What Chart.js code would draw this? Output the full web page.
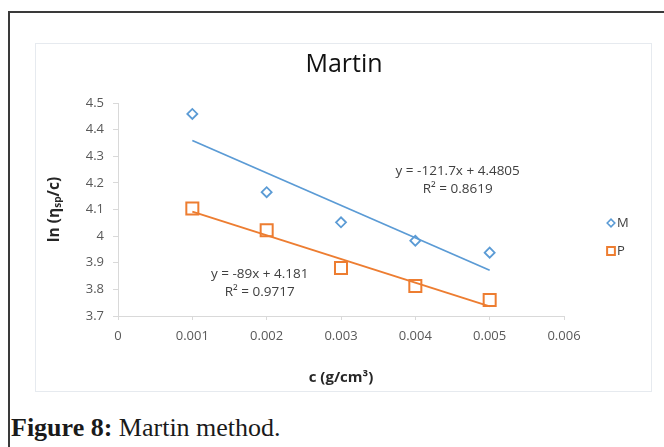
<!DOCTYPE html>
<html>
<head>
<meta charset="utf-8">
<script src="https://cdn.jsdelivr.net/npm/chart.js@4"></script>
<style>
  body { margin: 0; background: #fff; width: 664px; height: 447px; overflow: hidden; position: relative; }
  #frame { position: absolute; left: 8px; top: 11px; width: 700px; height: 500px; border: 2px solid #3a3a3a; }
  #box { position: absolute; left: 35px; top: 43px; width: 615px; height: 347px; border: 1px solid #e6eaef; }
  #chart { position: absolute; left: 35px; top: 43px; }
  #caption { position: absolute; left: 11px; top: 413px; font-family: "Liberation Serif", serif; font-size: 26px; color: #1a1a1a; white-space: nowrap; }
</style>
</head>
<body>
<div id="frame"></div>
<div id="box"></div>
<canvas id="chart" width="616" height="348"></canvas>
<div id="caption"><b>Figure 8:</b> Martin method.</div>
<script>
// concentrations (g/cm3)
const conc = [0.001, 0.002, 0.003, 0.004, 0.005];
// ln(nsp/c) values
const valuesM = [4.459, 4.165, 4.052, 3.983, 3.938];
const valuesP = [4.104, 4.022, 3.880, 3.813, 3.760];
// linear trendlines, ends at first and last concentration
const trendX = [0.001, 0.005];
const trendM = [4.359, 3.872];
const trendP = [4.092, 3.736];
const eqM = ["y = -121.7x + 4.4805", "R² = 0.8619"];
const eqP = ["y = -89x + 4.181", "R² = 0.9717"];
const seriesNames = ["M", "P"];

const blue = "#5b9bd5";
const orange = "#ed7d31";
const font = "'Open Sans', sans-serif";

function toPoints(xs, ys) {
  return xs.map((x, i) => ({ x: x, y: ys[i] }));
}

// trendline equations, anchored in data space
const equationLabels = {
  id: "equationLabels",
  afterDatasetsDraw(chart) {
    const ctx = chart.ctx;
    const xs = chart.scales.x, ys = chart.scales.y;
    ctx.save();
    ctx.font = "13.5px " + font;
    ctx.fillStyle = "#404040";
    ctx.textAlign = "center";
    ctx.textBaseline = "middle";
    let px = xs.getPixelForValue(0.00457), py = ys.getPixelForValue(4.2446);
    ctx.fillText(eqM[0], px, py);
    ctx.fillText(eqM[1], px, py + 18);
    px = xs.getPixelForValue(0.001906);
    py = ys.getPixelForValue(3.8577);
    ctx.fillText(eqP[0], px, py);
    ctx.fillText(eqP[1], px, py + 18);
    ctx.restore();
  }
};

// small legend on the right, like excel's
const sideLegend = {
  id: "sideLegend",
  afterDraw(chart) {
    const ctx = chart.ctx;
    const left = chart.chartArea.right + 47;
    const styles = [
      { pointStyle: "rectRot", radius: 3.8, borderWidth: 1.6, color: blue },
      { pointStyle: "rect", radius: 5.5, borderWidth: 2, color: orange }
    ];
    ctx.save();
    ctx.font = "13px " + font;
    ctx.textBaseline = "middle";
    seriesNames.forEach((name, i) => {
      const y = 180 + i * 28;
      const st = styles[i];
      ctx.strokeStyle = st.color;
      ctx.fillStyle = "rgba(0,0,0,0)";
      ctx.lineWidth = st.borderWidth;
      Chart.helpers.drawPoint(ctx, { pointStyle: st.pointStyle, radius: st.radius, borderWidth: st.borderWidth }, left, y);
      ctx.fillStyle = "#404040";
      ctx.fillText(name, left + 6, y);
    });
    ctx.restore();
  }
};

const config = {
  type: "scatter",
  data: {
    datasets: [
      {
        label: seriesNames[0],
        data: toPoints(conc, valuesM),
        pointStyle: "rectRot",
        pointRadius: 5,
        pointBorderWidth: 1.8,
        borderColor: blue,
        backgroundColor: "rgba(0,0,0,0)",
      },
      {
        label: seriesNames[1],
        data: toPoints(conc, valuesP),
        pointStyle: "rect",
        pointRadius: 8.5,
        pointBorderWidth: 2,
        borderColor: orange,
        backgroundColor: "rgba(0,0,0,0)",
      },
      {
        label: "trend M",
        data: toPoints(trendX, trendM),
        showLine: true,
        pointRadius: 0,
        borderColor: blue,
        borderWidth: 1.8,
      },
      {
        label: "trend P",
        data: toPoints(trendX, trendP),
        showLine: true,
        pointRadius: 0,
        borderColor: orange,
        borderWidth: 2,
      },
    ],
  },
  options: {
    responsive: false,
    animation: false,
    devicePixelRatio: 1,
    layout: { padding: { left: 6, right: 4, top: 0, bottom: 0 } },
    plugins: {
      legend: { display: false },
      tooltip: { enabled: false },
      title: {
        display: true,
        text: "Martin",
        color: "#111",
        font: { family: font, size: 25, weight: "normal" },
        padding: { top: 7, bottom: 23 },
      },
    },
    scales: {
      x: {
        type: "linear",
        min: 0,
        max: 0.006,
        afterFit: (s) => { s.height = 75; },
        border: { color: "#d9d9d9" },
        grid: { drawOnChartArea: false, color: "#d9d9d9", tickLength: 4 },
        ticks: {
          stepSize: 0.001,
          padding: 8,
          color: "#595959",
          font: { family: font, size: 13 },
          callback: (v) => Number(v.toFixed(3)).toString(),
        },
        title: {
          display: true,
          text: "c (g/cm³)",
          color: "#262626",
          font: { family: font, size: 15, weight: "bold" },
          padding: { top: 0, bottom: 4 },
        },
      },
      y: {
        min: 3.7,
        max: 4.5,
        afterFit: (s) => { s.width = 77; },
        border: { color: "#d9d9d9" },
        grid: { drawOnChartArea: false, color: "#d9d9d9", tickLength: 5 },
        ticks: {
          stepSize: 0.1,
          padding: 9,
          color: "#595959",
          font: { family: font, size: 13 },
          callback: (v) => Number(v.toFixed(1)).toString(),
        },
        title: {
          display: true,
          text: "ln (ηₛₚ/c)",
          color: "#262626",
          font: { family: font, size: 15.5, weight: "bold" },
          padding: { top: 4.7, bottom: 0 },
        },
      },
      // empty axis on the right, keeps room for the legend
      legendSpace: {
        type: "linear",
        position: "right",
        afterFit: (s) => { s.width = 83; },
        border: { display: false },
        grid: { display: false },
        ticks: { display: false },
      },
    },
  },
  plugins: [equationLabels, sideLegend],
};

new Chart(document.getElementById("chart"), config);
</script>
</body>
</html>
